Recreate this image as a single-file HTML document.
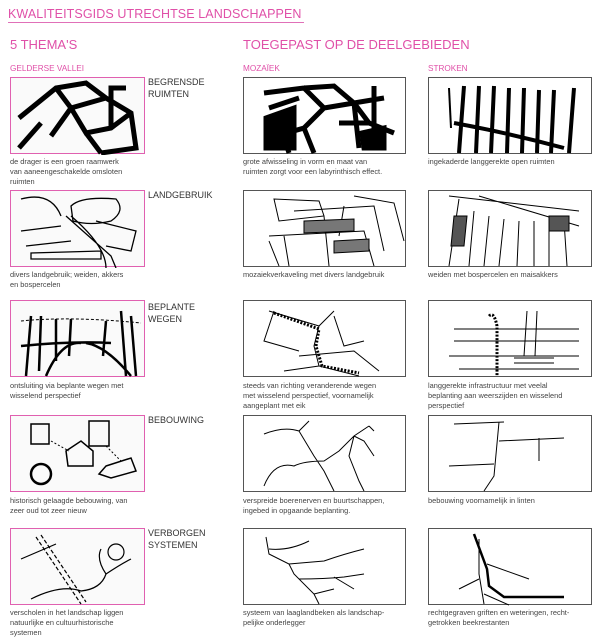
<!DOCTYPE html>
<html><head><style>
body{margin:0;width:605px;height:640px;background:#fff;position:relative;font-family:"Liberation Sans",sans-serif;overflow:hidden}
.a{position:absolute}
.pk{color:#e050a8}
.t{left:8px;top:6px;font-size:12.5px;letter-spacing:0.1px;border-bottom:1.5px solid #e070b8;line-height:16px;padding-right:2px}
.h{font-size:13px;top:37px}
.c{font-size:8.2px;top:64px}
.box{position:absolute;height:77px;box-sizing:border-box}
.L{left:10px;width:135px;border:1.3px solid #e060b0;background:#fafafa}
.M{left:243px;width:163px;border:1.3px solid #555}
.R{left:428px;width:164px;border:1.3px solid #555}
.lab{position:absolute;left:148px;font-size:9px;color:#333;line-height:12px}
.cap{position:absolute;font-size:7.4px;color:#444;line-height:10px}
svg{position:absolute;left:0;top:0}
</style></head><body>
<div class="a pk t">KWALITEITSGIDS UTRECHTSE LANDSCHAPPEN</div>
<div class="a pk h" style="left:10px">5 THEMA'S</div>
<div class="a pk h" style="left:243px">TOEGEPAST OP DE DEELGEBIEDEN</div>
<div class="a pk c" style="left:10px">GELDERSE VALLEI</div>
<div class="a pk c" style="left:243px">MOZAÏEK</div>
<div class="a pk c" style="left:428px">STROKEN</div>

<!-- row1 -->
<div class="box L" style="top:77px"><svg width="135" height="77" stroke="#000" fill="none" stroke-width="5"><path d="M8 40 L45 10 L75 5 L95 20 L120 35 L125 70 L90 75 M45 10 L60 30 L40 58 M60 30 L95 20 M60 30 L75 55 L100 50 L120 35 M30 45 L8 70 M75 55 L90 75 M100 50 L100 10 L115 10"/></svg></div>
<div class="lab" style="top:76px">BEGRENSDE<br>RUIMTEN</div>
<div class="cap" style="left:10px;top:157px">de drager is een groen raamwerk<br>van aaneengeschakelde omsloten<br>ruimten</div>
<div class="box M" style="top:77px"><svg width="163" height="77" stroke="#000" fill="none" stroke-width="5"><path d="M20 15 L60 10 L80 30 L60 50 L25 60 M60 10 L90 8 L110 25 L140 20 M80 30 L110 25 L125 45 L150 55 M60 50 L70 75 M110 25 L115 70 M25 30 L55 20 M95 45 L125 45 M40 60 L45 75 M130 8 L130 70"/><path d="M22 40 L50 30 L50 70 L22 70Z M118 55 L140 50 L140 70 L120 70Z" fill="#000"/></svg></div>
<div class="cap" style="left:243px;top:157px">grote afwisseling in vorm en maat van<br>ruimten zorgt voor een labyrinthisch effect.</div>
<div class="box R" style="top:77px"><svg width="164" height="77" stroke="#000" fill="none" stroke-width="4"><path d="M25 45 Q80 55 135 70 M35 8 L30 75 M50 8 L47 75 M65 8 L62 75 M80 10 L78 75 M95 10 L93 75 M110 12 L108 75 M125 12 L122 75 M145 10 L140 75"/><path d="M20 10 L22 50" stroke-width="2"/></svg></div>
<div class="cap" style="left:428px;top:157px">ingekaderde langgerekte open ruimten</div>

<!-- row2 -->
<div class="box L" style="top:190px"><svg width="135" height="77" stroke="#000" fill="none" stroke-width="1.3"><path d="M10 8 Q40 0 50 25 M55 25 L100 65 L105 77 M60 25 Q95 55 95 77 M60 15 Q70 5 105 8 Q115 20 100 30 Q80 35 62 30Z M85 30 L125 40 L120 60 L95 55 M20 68 L90 68 L90 60 L20 62Z M10 40 L50 35 M15 55 L60 50"/></svg></div>
<div class="lab" style="top:189px">LANDGEBRUIK</div>
<div class="cap" style="left:10px;top:270px">divers landgebruik; weiden, akkers<br>en bospercelen</div>
<div class="box M" style="top:190px"><svg width="163" height="77" stroke="#000" fill="none" stroke-width="1"><path d="M30 8 L35 30 L80 25 L75 10 Z M50 20 L130 15 L140 60 M25 45 L120 40 L130 75 M40 45 L45 75 M80 25 L85 75 M100 15 L95 45 M110 5 L150 12 L160 50 M25 50 L35 75"/><path d="M60 30 L110 28 L110 40 L60 42Z M90 50 L125 48 L125 60 L90 62Z" fill="#777"/></svg></div>
<div class="cap" style="left:243px;top:270px">mozaiekverkaveling met divers landgebruik</div>
<div class="box R" style="top:190px"><svg width="164" height="77" stroke="#000" fill="none" stroke-width="1"><path d="M20 5 L150 20 M30 8 L20 75 M45 20 L40 75 M60 25 L55 75 M75 28 L70 75 M90 30 L88 75 M105 30 L105 75 M120 30 L120 75 M135 30 L138 75 M50 5 L150 35"/><path d="M25 25 L38 25 L35 55 L22 55Z M120 25 L140 25 L140 40 L120 40Z" fill="#555"/></svg></div>
<div class="cap" style="left:428px;top:270px">weiden met bospercelen en maisakkers</div>

<!-- row3 -->
<div class="box L" style="top:300px"><svg width="135" height="77" stroke="#000" fill="none" stroke-width="2.5"><path d="M10 45 Q60 40 100 42 M20 15 L15 75 M30 15 L28 70 M45 18 L45 60 M60 18 L58 55 M110 10 L115 75 M120 15 L125 75 M95 20 L92 55 M35 75 Q50 40 70 42 M120 75 Q95 45 75 42"/><path d="M10 20 Q60 15 130 22" stroke-width="1" stroke-dasharray="3 2"/></svg></div>
<div class="lab" style="top:301px">BEPLANTE<br>WEGEN</div>
<div class="cap" style="left:10px;top:381px">ontsluiting via beplante wegen met<br>wisselend perspectief</div>
<div class="box M" style="top:300px"><svg width="163" height="77" stroke="#000" fill="none" stroke-width="1"><path d="M25 10 L75 25 L70 45 L75 65 L115 75 M30 10 L20 40 L55 50 M75 25 L90 10 M90 15 L100 45 L120 40 M55 55 L110 50 L135 70 M40 70 L75 65"/><path d="M30 12 L75 28 L72 45 L78 65 L115 72" stroke-width="3" stroke-dasharray="2 1.5"/></svg></div>
<div class="cap" style="left:243px;top:381px">steeds van richting veranderende wegen<br>met wisselend perspectief, voornamelijk<br>aangeplant met eik</div>
<div class="box R" style="top:300px"><svg width="164" height="77" stroke="#000" fill="none" stroke-width="1"><path d="M25 28 L150 28 M25 40 L150 40 M20 55 L150 55 M30 68 L150 68 M85 57 L125 57 M85 62 L125 62 M98 10 L95 55 M108 10 L106 55"/><path d="M60 15 Q65 10 68 25 L68 75" stroke-width="3" stroke-dasharray="2 1.5"/></svg></div>
<div class="cap" style="left:428px;top:381px">langgerekte infrastructuur met veelal<br>beplanting aan weerszijden en wisselend<br>perspectief</div>

<!-- row4 -->
<div class="box L" style="top:415px"><svg width="135" height="77" stroke="#000" fill="none" stroke-width="1.5"><path d="M20 8 L38 8 L38 28 L20 28Z M78 5 L98 5 L98 30 L78 30Z M55 35 L70 25 L82 35 L82 50 L57 50Z M95 50 L120 42 L125 55 L100 62 L88 58Z"/><circle cx="30" cy="58" r="10" stroke-width="2.5"/><path d="M40 25 L58 35 M95 30 L110 45" stroke-dasharray="2 2" stroke-width="1"/></svg></div>
<div class="lab" style="top:414px">BEBOUWING</div>
<div class="cap" style="left:10px;top:496px">historisch gelaagde bebouwing, van<br>zeer oud tot zeer nieuw</div>
<div class="box M" style="top:415px"><svg width="163" height="77" stroke="#000" fill="none" stroke-width="1"><path d="M20 18 Q40 10 55 15 L70 40 L80 55 L90 75 M65 5 L55 15 M20 70 Q30 45 50 50 Q60 45 80 45 L95 35 L110 20 L125 10 M110 20 L105 40 L115 65 L120 75 M110 20 L120 25 L130 40 M125 10 L130 15"/></svg></div>
<div class="cap" style="left:243px;top:496px">verspreide boerenerven en buurtschappen,<br>ingebed in opgaande beplanting.</div>
<div class="box R" style="top:415px"><svg width="164" height="77" stroke="#000" fill="none" stroke-width="1"><path d="M25 8 L75 6 M70 6 L65 60 L55 75 M70 25 L135 22 M20 50 L65 48 M110 22 L110 45"/></svg></div>
<div class="cap" style="left:428px;top:496px">bebouwing voornamelijk in linten</div>

<!-- row5 -->
<div class="box L" style="top:528px"><svg width="135" height="77" stroke="#000" fill="none" stroke-width="1.2"><path d="M25 8 L70 75 M30 6 L75 73" stroke-dasharray="4 2"/><path d="M20 70 Q50 55 70 62 Q90 60 95 45 Q110 35 120 30 M95 45 Q85 30 90 20 M10 30 L45 15"/><circle cx="105" cy="23" r="8"/></svg></div>
<div class="lab" style="top:527px">VERBORGEN<br>SYSTEMEN</div>
<div class="cap" style="left:10px;top:608px">verscholen in het landschap liggen<br>natuurlijke en cultuurhistorische<br>systemen</div>
<div class="box M" style="top:528px"><svg width="163" height="77" stroke="#000" fill="none" stroke-width="1"><path d="M22 8 L25 25 L45 35 L50 45 L70 65 L75 75 M25 20 Q45 22 65 12 M45 35 L80 32 Q100 25 120 20 M55 50 Q80 50 100 48 L120 45 M70 65 L90 60 M90 48 L110 60"/></svg></div>
<div class="cap" style="left:243px;top:608px">systeem van laaglandbeken als landschap-<br>pelijke onderlegger</div>
<div class="box R" style="top:528px"><svg width="164" height="77" stroke="#000" fill="none" stroke-width="1"><path d="M45 5 L58 40 L60 57 L75 68 L135 68" stroke-width="2.5"/><path d="M50 10 L50 45 L55 75 M58 35 L100 50 M50 50 L30 60 M55 65 L80 76"/></svg></div>
<div class="cap" style="left:428px;top:608px">rechtgegraven griften en weteringen, recht-<br>getrokken beekrestanten</div>
</body></html>
